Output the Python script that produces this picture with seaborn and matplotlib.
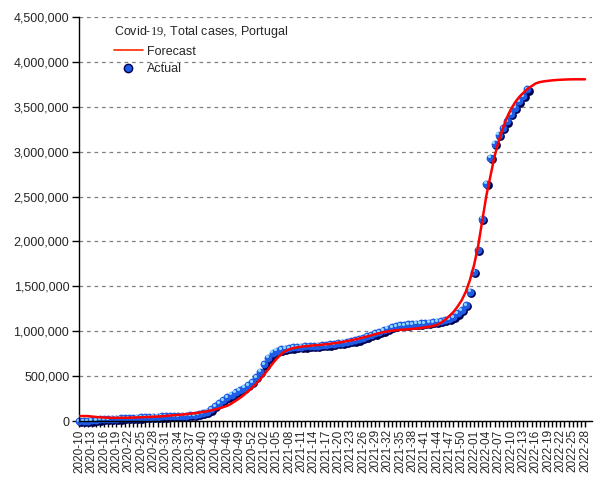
import numpy as np
import pandas as pd
import matplotlib
matplotlib.use('Agg')
import matplotlib.pyplot as plt
from matplotlib.lines import Line2D
from matplotlib.ticker import FuncFormatter
from matplotlib.transforms import offset_copy
import seaborn as sns

# ISO weeks 2020-10 .. 2022-28 (2020 has 53 weeks)
weeks = ([f'2020-{w:02d}' for w in range(10, 54)] +
         [f'2021-{w:02d}' for w in range(1, 53)] +
         [f'2022-{w:02d}' for w in range(1, 29)])

# Actual cumulative cases, one per week from 2020-10
actual = [0, 200, 2000, 6400, 11300, 16900, 20200, 23900, 25300, 27300,
          29200, 30800, 32700, 34900, 36500, 39100, 41900, 44400, 46800, 48900,
          50400, 51800, 53200, 54700, 56300, 58000, 60300, 64600, 69000, 76000,
          88000, 104000, 130000, 165000, 200000, 235000, 265000, 295000, 320000, 345000,
          372000, 400000, 435000, 490000, 550000, 630000, 705000, 760000, 785000, 798000,
          806000, 813000, 820000, 824000, 828000, 831000, 834000, 837000, 840000, 844000,
          848000, 853000, 859000, 866000, 873000, 880000, 888000, 898000, 910000, 925000,
          942000, 960000, 976000, 992000, 1010000, 1028000, 1045000, 1058000, 1066000, 1071000,
          1076000, 1080000, 1084000, 1088000, 1092000, 1097000, 1102000, 1108000, 1116000, 1125000,
          1138000, 1160000, 1198000, 1236000, 1292000, 1440000, 1663000, 1908000, 2253000, 2643000,
          2932000, 3088000, 3188000, 3263000, 3337000, 3419000, 3489000, 3560000, 3622000, 3694000]

# Forecast cumulative cases, whole range
forecast = [55000, 55000, 55000, 50000, 45000, 41000, 38000, 36000, 35000, 35000,
            35000, 36000, 37000, 38000, 40000, 42000, 44000, 46000, 48000, 50000,
            53000, 56000, 60000, 64000, 68000, 72000, 76000, 81000, 86000, 92000,
            100000, 108000, 118000, 128000, 140000, 155000, 170000, 195000, 225000, 255000,
            290000, 330000, 370000, 415000, 465000, 520000, 580000, 640000, 695000, 740000,
            775000, 798000, 812000, 821000, 828000, 833000, 838000, 842000, 846000, 850000,
            855000, 860000, 866000, 873000, 880000, 889000, 898000, 908000, 918000, 930000,
            942000, 955000, 967000, 979000, 990000, 998000, 1005000, 1010000, 1015000, 1019000,
            1022000, 1026000, 1030000, 1036000, 1042000, 1050000, 1058000, 1072000, 1095000, 1130000,
            1170000, 1215000, 1275000, 1345000, 1440000, 1570000, 1735000, 1950000, 2230000, 2510000,
            2730000, 2950000, 3115000, 3260000, 3380000, 3475000, 3550000, 3610000, 3655000, 3700000,
            3730000, 3760000, 3775000, 3783000, 3789000, 3794000, 3798000, 3801000, 3803000, 3805000,
            3806000, 3806000, 3806000, 3806000]

df_a = pd.DataFrame({'week': np.arange(len(actual)), 'cases': actual})
df_f = pd.DataFrame({'week': np.arange(len(forecast)), 'cases': forecast})

sns.set_theme(style='white')
plt.rcParams['font.family'] = ['Liberation Sans', 'DejaVu Sans']
plt.rcParams['mathtext.fontset'] = 'custom'
plt.rcParams['mathtext.rm'] = 'Liberation Serif'

fig = plt.figure(figsize=(6.05, 4.8), dpi=100)
ax = fig.add_axes([79/605, 59/480, (592-79)/605, (421-17)/480])

# "sphere" markers: dark shadow, blue body, light highlight
sns.scatterplot(data=df_a, x='week', y='cases', s=40, color='#000050',
                linewidth=0, ax=ax, zorder=2)
sns.scatterplot(data=df_a, x='week', y='cases', s=32, color='#1f5ce6',
                linewidth=0, ax=ax, zorder=2.1)
sns.scatterplot(data=df_a, x='week', y='cases', s=5, color='#8fd8ff',
                linewidth=0, ax=ax, zorder=2.2)
shifts = [(1.2, -1.2), (0, 0), (-1.3, 1.3)]
for coll, (dx, dy) in zip(ax.collections[-3:], shifts):
    coll.set_offset_transform(offset_copy(ax.transData, x=dx, y=dy, units='dots'))
    coll.set_clip_on(False)

sns.lineplot(data=df_f, x='week', y='cases', color='#ff0000', lw=1.8, ax=ax, zorder=3)

# axes
ax.set_xlim(-0.1, 124.7)
ax.set_ylim(0, 4500000)
ax.set_yticks(np.arange(0, 4500001, 500000))
ax.yaxis.set_major_formatter(FuncFormatter(lambda v, p: f'{int(v):,}'))
ax.set_xticks(np.arange(len(weeks)))
ax.set_xticklabels([w if i % 3 == 0 else '' for i, w in enumerate(weeks)],
                   rotation=90, fontsize=8.5)
ax.tick_params(axis='y', labelsize=9, length=5, width=1, color='black',
               direction='out', pad=2, left=True)
ax.tick_params(axis='x', length=4, width=1, color='black', direction='out',
               pad=2, bottom=True)
ax.set_xlabel('')
ax.set_ylabel('')
ax.yaxis.grid(True, linestyle=(0, (3, 3)), color='#808080', lw=0.9)
ax.xaxis.grid(False)
for s in ['top', 'right']:
    ax.spines[s].set_visible(False)
for s in ['left', 'bottom']:
    ax.spines[s].set_color('black')
    ax.spines[s].set_linewidth(1)

# legend
handles = [Line2D([], [], color='#ff2a00', lw=1.2),
           Line2D([], [], marker='o', ls='none', markerfacecolor='#1f5ce6',
                  markeredgecolor='#000050', markersize=6)]
ax.legend(handles, ['Forecast', 'Actual'],
          title='Covid-$\\mathrm{19}$, Total cases, Portugal',
          loc='upper left', bbox_to_anchor=(114/605, 1 - 24/480),
          bbox_transform=fig.transFigure, frameon=False, fontsize=9,
          title_fontsize=9, alignment='left', borderpad=0, borderaxespad=0,
          handlelength=2.3, handletextpad=0.35, labelspacing=0.45)

fig.savefig('out.png', dpi=100)
